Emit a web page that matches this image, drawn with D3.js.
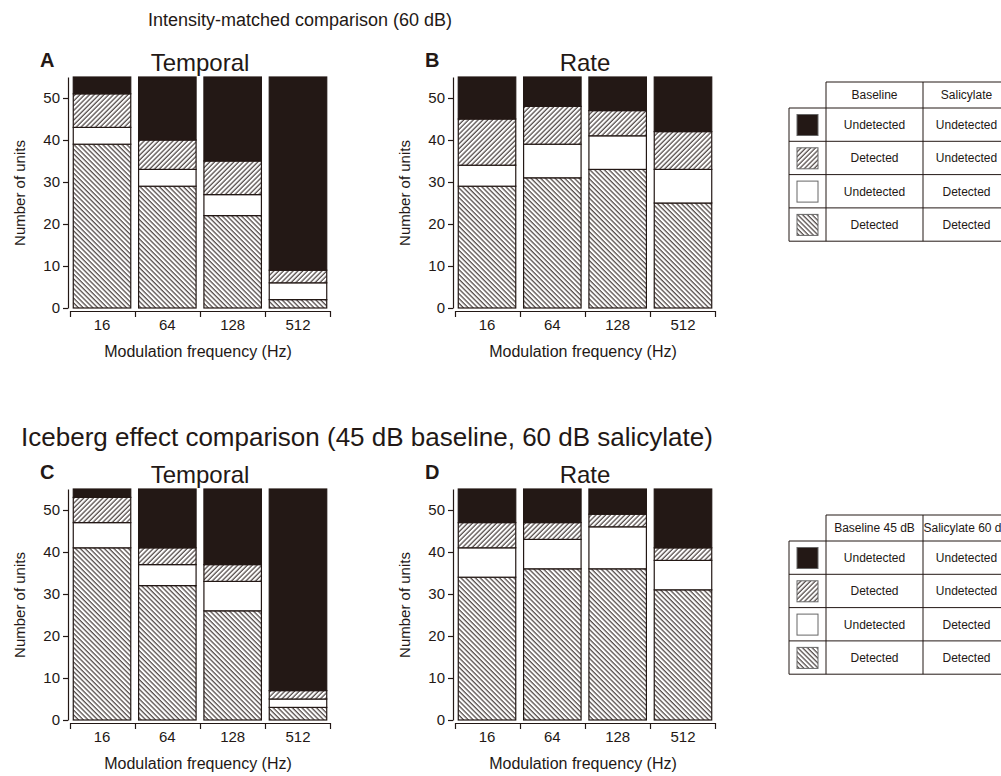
<!DOCTYPE html>
<html lang="en">
<head>
<meta charset="UTF-8">
<title>Salicylate unit detection comparison</title>
<script src="https://d3js.org/d3.v7.min.js"></script>
<style>
    body { margin: 0; background: #fff; }
    svg { display: block; font-family: "Liberation Sans", Arial, sans-serif; }
    .axis path, .axis line { stroke: #231815; stroke-width: 1.2; }
    .axis text { font-size: 15px; fill: #231815; }
    .lbl { fill: #231815; }
    .cell line { stroke: #231815; stroke-width: 1; }
</style>
</head>
<body>
<svg width="1001" height="776"></svg>
<script>
    // modulation frequencies (Hz)
    const freqs = ["16", "64", "128", "512"];
    // stack order, bottom to top
    const keys = ["both", "salOnly", "baseOnly", "neither"];

    // A: temporal, intensity-matched (60 dB)
    const tempA_both     = [39, 29, 22, 2];
    const tempA_salOnly  = [4, 4, 5, 4];
    const tempA_baseOnly = [8, 7, 8, 3];
    const tempA_neither  = [4, 15, 20, 46];

    // B: rate, intensity-matched (60 dB)
    const rateB_both     = [29, 31, 33, 25];
    const rateB_salOnly  = [5, 8, 8, 8];
    const rateB_baseOnly = [11, 9, 6, 9];
    const rateB_neither  = [10, 7, 8, 13];

    // C: temporal, iceberg (45 dB baseline, 60 dB salicylate)
    const tempC_both     = [41, 32, 26, 3];
    const tempC_salOnly  = [6, 5, 7, 2];
    const tempC_baseOnly = [6, 4, 4, 2];
    const tempC_neither  = [2, 14, 18, 48];

    // D: rate, iceberg
    const rateD_both     = [34, 36, 36, 31];
    const rateD_salOnly  = [7, 7, 10, 7];
    const rateD_baseOnly = [6, 4, 3, 3];
    const rateD_neither  = [8, 8, 6, 14];

    const yTicks = [0, 10, 20, 30, 40, 50];
    const legendBase = ["Undetected", "Detected", "Undetected", "Detected"];
    const legendSal  = ["Undetected", "Undetected", "Detected", "Detected"];

    const ink = "#231815";
    const svg = d3.select("svg");
    const defs = svg.append("defs");

    function hatch(id, angle) {
        const p = defs.append("pattern")
            .attr("id", id)
            .attr("patternUnits", "userSpaceOnUse")
            .attr("width", 3.4).attr("height", 3.4)
            .attr("patternTransform", `rotate(${angle})`);
        p.append("rect").attr("width", 3.4).attr("height", 3.4).attr("fill", "#fff");
        p.append("line").attr("x1", 1).attr("x2", 1).attr("y1", 0).attr("y2", 3.4)
            .attr("stroke", ink).attr("stroke-width", 1);
    }
    hatch("back", -45);
    hatch("fwd", 45);

    const fills = { both: "url(#back)", salOnly: "#fff", baseOnly: "url(#fwd)", neither: ink };

    function rows(both, salOnly, baseOnly, neither) {
        return freqs.map((f, i) => ({ freq: f, both: both[i], salOnly: salOnly[i], baseOnly: baseOnly[i], neither: neither[i] }));
    }

    const stack = d3.stack().keys(keys);

    function panel(ox, oy, letter, title, data) {
        const g = svg.append("g").attr("transform", `translate(${ox},${oy})`);
        const y = d3.scaleLinear().domain([0, 55]).range([308, 77]);
        const x = d3.scaleBand().domain(freqs).range([70, 330]).paddingInner(0.12).paddingOuter(0.05);

        const layers = g.selectAll(".layer")
            .data(stack(data))
            .join("g")
            .attr("fill", d => fills[d.key]);
        layers.selectAll("rect")
            .data(d => d)
            .join("rect")
            .attr("x", d => x(d.data.freq))
            .attr("width", x.bandwidth())
            .attr("y", d => y(d[1]))
            .attr("height", d => y(d[0]) - y(d[1]))
            .attr("stroke", ink)
            .attr("stroke-width", 1.2);

        g.append("g").attr("class", "axis")
            .attr("transform", "translate(68,0)")
            .call(d3.axisLeft(y).tickValues(yTicks).tickSize(5).tickSizeOuter(0).tickPadding(3));

        // boundary ticks of the detached x axis
        const xb = d3.scaleLinear().domain([0, freqs.length]).range([70, 330]);
        g.append("g").attr("class", "axis")
            .attr("transform", "translate(0,311)")
            .call(d3.axisBottom(xb).ticks(freqs.length).tickSize(6).tickSizeOuter(0).tickFormat(""));
        g.append("g").attr("class", "axis")
            .attr("transform", "translate(0,311)")
            .call(d3.axisBottom(x).tickSize(0).tickPadding(8))
            .call(a => a.select(".domain").remove());

        g.append("text").attr("class", "lbl").attr("x", 40).attr("y", 67)
            .attr("font-size", 20).attr("font-weight", "bold").text(letter);
        g.append("text").attr("class", "lbl").attr("x", 200).attr("y", 71)
            .attr("text-anchor", "middle").attr("font-size", 24).text(title);
        g.append("text").attr("class", "lbl").attr("x", 198).attr("y", 357)
            .attr("text-anchor", "middle").attr("font-size", 16).text("Modulation frequency (Hz)");
        g.append("text").attr("class", "lbl")
            .attr("transform", "translate(25,193) rotate(-90)")
            .attr("text-anchor", "middle").attr("font-size", 15).text("Number of units");
    }

    function legend(oy, head1, head2) {
        const g = svg.append("g").attr("class", "cell").attr("transform", `translate(0,${oy})`);
        const cols = [789, 826, 923, 1010];
        const rowY = d3.range(5).map(i => 26 + i * 33.3);
        // header row
        g.append("line").attr("x1", cols[1]).attr("x2", 1001).attr("y1", 0).attr("y2", 0);
        g.append("line").attr("x1", cols[1]).attr("x2", cols[1]).attr("y1", 0).attr("y2", rowY[4]);
        g.append("line").attr("x1", cols[2]).attr("x2", cols[2]).attr("y1", 0).attr("y2", rowY[4]);
        g.append("line").attr("x1", cols[0]).attr("x2", cols[0]).attr("y1", rowY[0]).attr("y2", rowY[4]);
        g.selectAll(".h").data(rowY).join("line")
            .attr("x1", cols[0]).attr("x2", 1001).attr("y1", d => d).attr("y2", d => d);
        g.append("text").attr("class", "lbl").attr("x", (cols[1] + cols[2]) / 2).attr("y", 17)
            .attr("text-anchor", "middle").attr("font-size", 12).text(head1);
        g.append("text").attr("class", "lbl").attr("x", (cols[2] + cols[3]) / 2).attr("y", 17)
            .attr("text-anchor", "middle").attr("font-size", 12).text(head2);

        const order = ["neither", "baseOnly", "salOnly", "both"];
        order.forEach((k, i) => {
            const top = rowY[i];
            g.append("rect").attr("x", 797).attr("y", top + 6.5).attr("width", 21).attr("height", 21)
                .attr("fill", fills[k]).attr("stroke", "#666").attr("stroke-width", 1);
            g.append("text").attr("class", "lbl").attr("x", (cols[1] + cols[2]) / 2).attr("y", top + 21)
                .attr("text-anchor", "middle").attr("font-size", 12).text(legendBase[i]);
            g.append("text").attr("class", "lbl").attr("x", (cols[2] + cols[3]) / 2).attr("y", top + 21)
                .attr("text-anchor", "middle").attr("font-size", 12).text(legendSal[i]);
        });
    }

    svg.append("text").attr("class", "lbl").attr("x", 300).attr("y", 26)
        .attr("text-anchor", "middle").attr("font-size", 18).text("Intensity-matched comparison (60 dB)");
    svg.append("text").attr("class", "lbl").attr("x", 367).attr("y", 446)
        .attr("text-anchor", "middle").attr("font-size", 26).text("Iceberg effect comparison (45 dB baseline, 60 dB salicylate)");

    panel(0, 0, "A", "Temporal", rows(tempA_both, tempA_salOnly, tempA_baseOnly, tempA_neither));
    panel(385, 0, "B", "Rate", rows(rateB_both, rateB_salOnly, rateB_baseOnly, rateB_neither));
    panel(0, 412, "C", "Temporal", rows(tempC_both, tempC_salOnly, tempC_baseOnly, tempC_neither));
    panel(385, 412, "D", "Rate", rows(rateD_both, rateD_salOnly, rateD_baseOnly, rateD_neither));

    legend(82, "Baseline", "Salicylate");
    legend(515, "Baseline 45 dB", "Salicylate 60 dB");
</script>
</body>
</html>
